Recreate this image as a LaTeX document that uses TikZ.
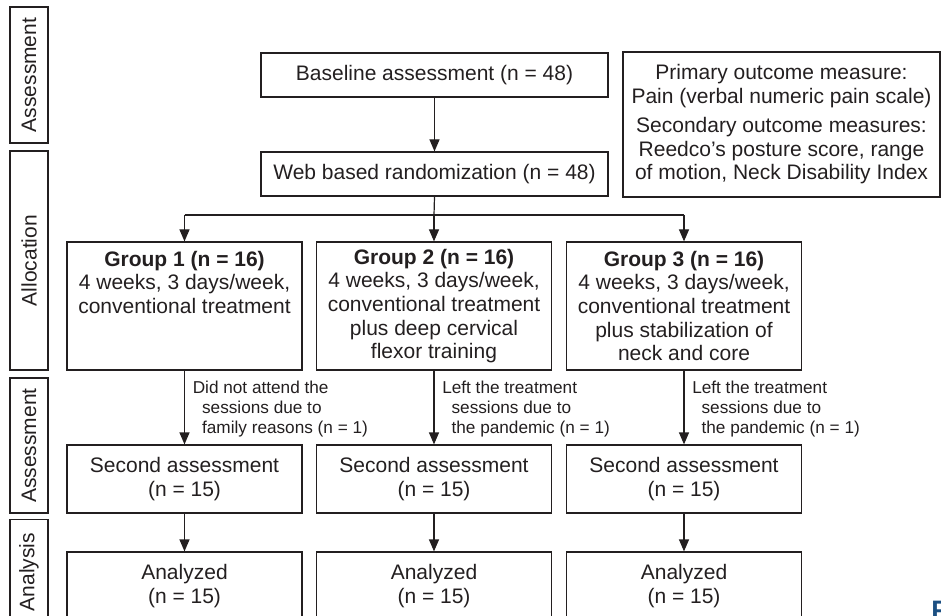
\documentclass[tikz,border=0pt]{standalone}
\usepackage{fontspec}
\setmainfont{Liberation Sans}
\usepackage{xcolor}
\usetikzlibrary{arrows.meta,positioning}

\definecolor{ink}{HTML}{231F20}
\definecolor{figblue}{HTML}{1B4F82}

\tikzset{
    box/.style={draw=ink, text=ink, line width=0.9pt, align=center, inner sep=2pt,
        font=\fontsize{15.75}{17.75}\selectfont},
    sidebox/.style={box, rotate=90, minimum height=28.5pt},
    flow/.style={-{Triangle[width=7.5pt,length=9pt]}, draw=ink, line width=0.9pt},
    droptxt/.style={align=left, inner sep=0pt, text=ink,
        font=\fontsize{12.9}{15}\selectfont},
}

\begin{document}
\begin{tikzpicture}[x=0.75pt, y=-0.75pt]
    \useasboundingbox (0,0) rectangle (941,616);
    \clip (0,0) rectangle (941,616);

    % Phasen links
    \node[sidebox, minimum width=102pt]    (pAss1)  at (29,75)    {Assessment};
    \node[sidebox, minimum width=164.25pt] (pAlloc) at (29,260.5) {Allocation};
    \node[sidebox, minimum width=101.25pt] (pAss2)  at (29,445.5) {Assessment};
    \node[sidebox, minimum width=78.75pt]  (pAna)   at (29,572)   {Analysis};

    % Oben
    \node[box, minimum width=260.25pt, minimum height=33pt] (base) at (434.5,75) {Baseline assessment (n = 48)};
    \node[box, minimum width=260.25pt, minimum height=33pt] (rand) at (434.5,174) {Web based randomization (n = 48)};
    \node[box, minimum width=237.75pt, minimum height=108.75pt] (outc) at (781.5,124.5)
        {Primary outcome measure:\\Pain (verbal numeric pain scale)\\[4pt]
         Secondary outcome measures:\\Reedco\textquoteright s posture score, range\\of motion, Neck Disability Index};

    % Gruppen
    \node[box, minimum width=176.25pt, minimum height=96pt] (g1) at (184.5,306)
        {\textbf{Group 1 (n = 16)}\\4 weeks, 3 days/week,\\conventional treatment\\~\\~};
    \node[box, minimum width=176.25pt, minimum height=96pt] (g2) at (434,306)
        {\textbf{Group 2 (n = 16)}\\4 weeks, 3 days/week,\\conventional treatment\\plus deep cervical\\flexor training};
    \node[box, minimum width=176.25pt, minimum height=96pt] (g3) at (684,306)
        {\textbf{Group 3 (n = 16)}\\4 weeks, 3 days/week,\\conventional treatment\\plus stabilization of\\neck and core};

    % Zweite Messung und Analyse
    \foreach \i/\x in {1/184.5, 2/434, 3/684} {
        \node[box, minimum width=176.25pt, minimum height=51pt] (s\i) at (\x,479) {Second assessment\\(n = 15)};
        \node[box, minimum width=176.25pt, minimum height=51pt] (a\i) at (\x,586) {Analyzed\\(n = 15)};
    }

    % Pfeile
    \draw[flow] (base) -- (rand);
    \coordinate (split) at (434,215);
    \draw[line width=0.9pt, draw=ink] (rand.south) -- (split);
    \draw[line width=0.9pt, draw=ink] (g1.north |- split) -- (g3.north |- split);
    \foreach \i in {1,2,3} {
        \draw[flow] (g\i.north |- split) -- (g\i.north);
        \draw[flow] (g\i) -- (s\i);
        \draw[flow] (s\i) -- (a\i);
    }

    % Ausfaelle
    \node[droptxt, below right=8pt and 6pt of g1.south] (d1)
        {Did not attend the\\\hspace{7pt}sessions due to\\\hspace{7pt}family reasons (n = 1)};
    \node[droptxt, below right=8pt and 6pt of g2.south] (d2)
        {Left the treatment\\\hspace{7pt}sessions due to\\\hspace{7pt}the pandemic (n = 1)};
    \node[droptxt, below right=8pt and 6pt of g3.south] (d3)
        {Left the treatment\\\hspace{7pt}sessions due to\\\hspace{7pt}the pandemic (n = 1)};

    \node[anchor=north west, inner sep=0pt, text=figblue,
        font=\bfseries\fontsize{20}{20}\selectfont] (figF) at (931,601) {F};
\end{tikzpicture}
\end{document}
